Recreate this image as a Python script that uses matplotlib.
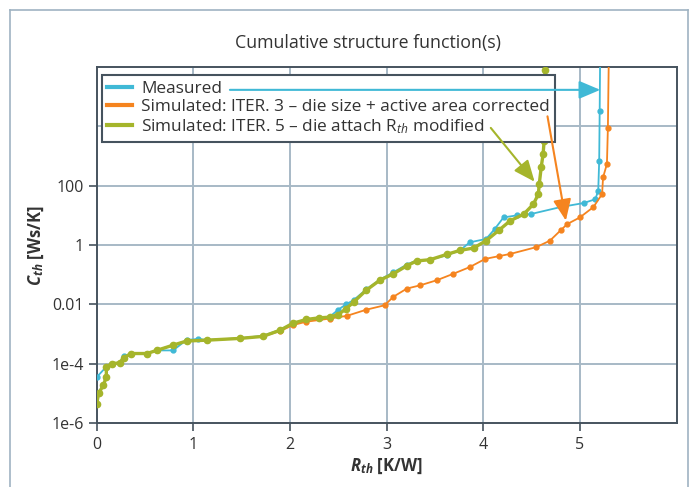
import numpy as np
import matplotlib
matplotlib.use("Agg")
import matplotlib.pyplot as plt
from matplotlib.lines import Line2D

plt.rcParams['font.family'] = ['Open Sans', 'DejaVu Sans']
plt.rcParams['mathtext.fontset'] = 'custom'
plt.rcParams['mathtext.rm'] = 'Open Sans'
plt.rcParams['mathtext.it'] = 'Open Sans:italic'
plt.rcParams['mathtext.bf'] = 'Open Sans:bold'
plt.rcParams['mathtext.bfit'] = 'Open Sans:italic:bold'

# Measured structure function (R_th in K/W, C_th in Ws/K)
meas_r = [0.0, 0.10, 0.16, 0.24, 0.28, 0.36, 0.52, 0.62, 0.79, 0.93, 1.05, 1.14,
          1.48, 1.72, 1.90, 2.03, 2.17, 2.30, 2.41, 2.50, 2.58, 2.66, 2.79, 2.93,
          3.07, 3.21, 3.31, 3.45, 3.62, 3.76, 3.86, 4.03, 4.12, 4.21, 4.35, 4.49,
          4.80, 5.04, 5.16, 5.19, 5.20, 5.205, 5.21]
meas_c = [3.5e-5, 7.9e-5, 1.0e-4, 1.07e-4, 1.8e-4, 2.2e-4, 2.2e-4, 2.8e-4, 2.8e-4,
          6.3e-4, 6.8e-4, 6.3e-4, 7.2e-4, 8.7e-4, 1.4e-3, 2.3e-3, 3.0e-3, 3.4e-3,
          3.8e-3, 6.6e-3, 1.0e-2, 1.4e-2, 3.2e-2, 6.8e-2, 0.12, 0.22, 0.30, 0.32,
          0.45, 0.66, 1.23, 1.6, 3.5, 8.5, 10, 11, 19, 26, 35, 68, 690, 3.3e4, 3e6]

# Simulated ITER. 3
it3_r = [0.0, 0.02, 0.07, 0.10, 0.10, 0.16, 0.24, 0.28, 0.36, 0.52, 0.62, 0.79,
         0.93, 1.14, 1.48, 1.72, 1.90, 2.03, 2.17, 2.41, 2.59, 2.79, 2.98, 3.07,
         3.21, 3.35, 3.52, 3.69, 3.86, 4.02, 4.16, 4.28, 4.55, 4.69, 4.80, 4.87,
         5.0, 5.14, 5.23, 5.24, 5.28, 5.29, 5.30]
it3_c = [4.4e-6, 1.0e-5, 1.9e-5, 3.6e-5, 7.9e-5, 1.0e-4, 1.07e-4, 1.6e-4, 2.2e-4,
         2.2e-4, 2.8e-4, 4.2e-4, 5.8e-4, 6.2e-4, 7.1e-4, 8.3e-4, 1.26e-3, 2.0e-3,
         2.6e-3, 3.3e-3, 4.1e-3, 6.6e-3, 9.3e-3, 1.8e-2, 3.4e-2, 4.4e-2, 6.5e-2,
         0.107, 0.18, 0.34, 0.42, 0.50, 0.85, 1.4, 3.1, 5.1, 8.5, 19, 52, 190, 540,
         9100, 3e6]

# Simulated ITER. 5
it5_r = [0.0, 0.02, 0.07, 0.10, 0.10, 0.16, 0.24, 0.28, 0.36, 0.52, 0.62, 0.79,
         0.93, 1.14, 1.48, 1.72, 1.90, 2.03, 2.17, 2.30, 2.41, 2.50, 2.58, 2.66,
         2.79, 2.93, 3.07, 3.21, 3.31, 3.45, 3.62, 3.76, 3.90, 4.03, 4.16, 4.28,
         4.42, 4.52, 4.57, 4.58, 4.60, 4.62, 4.63, 4.64]
it5_c = [4.4e-6, 1.0e-5, 1.9e-5, 3.6e-5, 7.9e-5, 1.0e-4, 1.07e-4, 1.6e-4, 2.2e-4,
         2.2e-4, 2.8e-4, 4.2e-4, 5.8e-4, 6.2e-4, 7.1e-4, 8.3e-4, 1.35e-3, 2.3e-3,
         3.1e-3, 3.5e-3, 3.7e-3, 4.5e-3, 7.1e-3, 1.2e-2, 3.0e-2, 6.5e-2, 0.107, 0.20,
         0.29, 0.32, 0.48, 0.66, 0.79, 1.4, 3.1, 6.6, 11, 24, 52, 115, 420, 1200,
         3200, 8e5]

labels = ['Measured',
          'Simulated: ITER. 3 – die size + active area corrected',
          'Simulated: ITER. 5 – die attach R$_{th}$ modified']
colors = ['#40b9d6', '#f5841f', '#a5b52b']

ytick_vals = [1e-6, 1e-4, 1e-2, 1, 100]
ytick_labels = ['1e-6', '1e-4', '0.01', '1', '100']
xtick_vals = [0, 1, 2, 3, 4, 5]

txt = '#333333'
grid_c = '#a7b9c6'
spine_c = '#46535e'

fig = plt.figure(figsize=(6.97, 4.87), dpi=100)
ax = fig.add_axes([0.1387, 0.1314, 0.8319, 0.731])

# outer frame (open at the bottom)
frame = dict(color='#9fb3c2', lw=1.2, transform=fig.transFigure)
fig.add_artist(Line2D([10 / 697, 10 / 697], [0, 1 - 10 / 487], **frame))
fig.add_artist(Line2D([10 / 697, 688 / 697], [1 - 10 / 487, 1 - 10 / 487], **frame))
fig.add_artist(Line2D([688 / 697, 688 / 697], [0, 1 - 10 / 487], **frame))

ax.set_yscale('log')
ax.set_xlim(0, 6)
ax.set_ylim(1e-6, 1e6)

for v in [1e-4, 1e-2, 1, 100, 1e4]:
    ax.axhline(v, color=grid_c, lw=1.4, zorder=0)
for v in [1, 2, 3, 4, 5]:
    ax.axvline(v, color=grid_c, lw=1.4, zorder=0)

ax.plot(meas_r, meas_c, color=colors[0], lw=1.3, marker='o', ms=3.5, zorder=3)
ax.plot(it3_r, it3_c, color=colors[1], lw=1.3, marker='o', ms=3.5, zorder=3)
ax.plot(it5_r, it5_c, color=colors[2], lw=2.4, marker='o', ms=4.5, zorder=4)

ax.set_yticks(ytick_vals)
ax.set_yticklabels(ytick_labels)
ax.minorticks_off()
ax.set_xticks(xtick_vals)
ax.tick_params(axis='both', colors=spine_c, labelcolor=txt, labelsize=11.5,
               length=6, width=1.2)
ax.tick_params(axis='x', pad=4)
for s in ax.spines.values():
    s.set_color(spine_c)
    s.set_linewidth(1.4)

fig.text(368 / 697, 1 - 43 / 487, 'Cumulative structure function(s)', fontsize=12.8,
         color=txt, ha='center', va='center')
ax.set_xlabel(r'$\mathbfit{R}_{\mathbfit{th}}$ [K/W]', fontsize=12, fontweight='bold',
              color=txt, labelpad=3)
ax.set_ylabel(r'$\mathbfit{C}_{\mathbfit{th}}$ [Ws/K]', fontsize=12, fontweight='bold',
              color=txt, labelpad=4)

handles = [Line2D([], [], color=c, lw=3) for c in colors]
leg = ax.legend(handles, labels, loc='upper left', bbox_to_anchor=(0.009, 0.9775),
                fontsize=12.4, frameon=True, fancybox=False, handlelength=1.45,
                handletextpad=0.5, labelspacing=0.14, borderpad=0.32,
                borderaxespad=0)
leg.get_frame().set_edgecolor(spine_c)
leg.get_frame().set_linewidth(1.5)
leg.get_frame().set_alpha(1)
leg.set_zorder(10)
for t in leg.get_texts():
    t.set_color(txt)

# callout arrows
ax.annotate('', xy=(5.24, 10 ** 5.23), xytext=(1.35, 10 ** 5.23),
            arrowprops=dict(arrowstyle='-|>,head_length=1.3,head_width=0.55',
                            color=colors[0], lw=1.5), zorder=11)
ax.annotate('', xy=(4.86, 10 ** 0.73), xytext=(4.66, 10 ** 4.43),
            arrowprops=dict(arrowstyle='-|>,head_length=1.3,head_width=0.55',
                            color=colors[1], lw=1.5), zorder=11)
ax.annotate('', xy=(4.55, 10 ** 2.06), xytext=(4.06, 10 ** 4.02),
            arrowprops=dict(arrowstyle='-|>,head_length=1.3,head_width=0.55',
                            color=colors[2], lw=1.5), zorder=11)

fig.savefig('out.png', dpi=100)
